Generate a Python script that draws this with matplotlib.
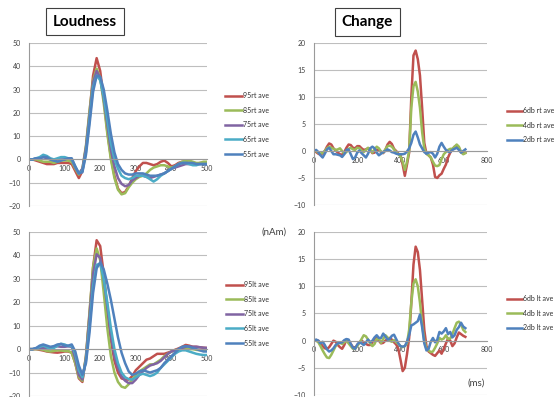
import numpy as np
import matplotlib
matplotlib.use('Agg')
import matplotlib.pyplot as plt

plt.rcParams['font.family'] = ['Lato', 'DejaVu Sans']

# loudness responses, 0..500 ms every 10 ms
t_loud = np.arange(0, 501, 10)

rt95 = [0, 0, -0.5, -1, -1.5, -2, -2, -2, -1.5, -1.5, -1.5, -1.5, -2, -5, -8, -5, 5, 20, 36, 43.5,
        38, 26, 12, 1, -7, -12.5, -14.5, -14, -11.5, -8, -5, -3, -1.5, -1.5, -2, -2.5, -2, -1, -0.5, -1.5,
        -3, -2.5, -1.5, -1, -1, -1.5, -2, -2, -1.5, -1.5, -1.5]
rt85 = [0, 0, 0, -0.5, -1, -1, -1, -1.5, -1, -0.5, -0.5, -0.5, -1, -4, -6.5, -4, 6, 21, 34, 39,
        35, 24, 11, 0, -8, -13, -15, -14.5, -12, -10, -8.5, -7.5, -7, -6, -4.5, -3.5, -3, -2.5, -2.5, -3,
        -3.5, -3, -2, -1, -0.5, -0.5, -1, -1.5, -1.5, -1, -1]
rt75 = [0, 0, 0.5, 0.5, 1, 0.5, 0, -0.5, 0, 0, 0, 0.5, 0, -3.5, -6, -4, 5, 19, 33, 38,
        35, 26, 15, 4, -3, -8, -10.5, -11.5, -11, -9, -8, -7, -7, -7.5, -8, -7.5, -7, -6.5, -6, -5,
        -4, -3.5, -3, -2.5, -2, -2, -2, -2, -2, -2, -2]
rt65 = [0, 0, 0.5, 1, 2, 1.5, 0.5, 0, 0.5, 1, 1, 0.5, 0, -3, -6, -5, 3, 17, 31, 36,
        34, 27, 17, 7, 0, -4, -7, -8, -8.5, -8, -7, -7, -7, -7.5, -8.5, -9.5, -8.5, -7, -6, -5,
        -4, -3, -2, -1.5, -1.5, -2, -2.5, -2.5, -2, -2, -2]
rt55 = [0, 0, 0.5, 0.5, 1, 1, 0, -0.5, -1, -0.5, 0, 0.5, 0.5, -3, -6, -5.5, 2, 15, 29, 36,
        35.5, 30, 21, 11, 3, -2, -4.5, -6, -6.5, -6.5, -6, -6, -6, -6.5, -7, -7, -7, -6.5, -6, -5,
        -4, -3, -2, -1.5, -1.5, -1.5, -1.5, -2, -2, -2, -2]

lt95 = [0, 0, 0, -0.3, -0.6, -1, -1.2, -1.4, -1.5, -1.3, -1, -1, -1.5, -6, -12.5, -14, -3, 15, 35, 46.5,
        44, 32, 17, 4, -5, -10, -12.5, -13, -13, -11.5, -9, -7.5, -6, -4.5, -4, -3, -2, -2, -2, -1.5,
        -1, -0.3, 0.3, 1, 1.8, 1.5, 1, 1, 0.8, 0.6, 0.5]
lt85 = [0, 0, 0, 0, -0.3, -0.8, -1, -0.8, -0.5, -0.6, -0.8, -0.8, -1.5, -6, -12, -13.5, -3, 16, 35, 43,
        38, 24, 9, -3, -10, -14, -16, -16.5, -15, -13, -11, -9.5, -8.5, -7.5, -6.5, -6.5, -5.5, -4.5, -3, -2,
        -1, -0.5, 0, 0, 0, 0, 0, -0.3, -0.5, -0.5, -0.5]
lt75 = [0, 0, 0.3, 0.5, 0.5, 0.3, 0.5, 1, 1.2, 1, 1, 1.2, 1, -4, -11, -13, -4, 14, 32, 40.5,
        39, 30, 18, 6, -3, -8, -11.5, -13.5, -14.5, -14.5, -13, -11, -9.5, -8, -7, -6.5, -6, -5, -3.5, -2,
        -1, -0.5, 0, 0.5, 1, 1.2, 1, 1, 0.8, 0.6, 0.5]
lt65 = [0, 0, 0.3, 1, 1.5, 0.8, 0, 0.5, 1.5, 2.3, 2, 1.3, 1.5, -2, -9, -12, -5, 10, 27, 36,
        36.5, 30, 20, 9, 0, -6, -10, -12, -12.8, -13, -12, -11, -10.5, -11, -11.5, -11, -10, -8, -6.5, -5,
        -3.5, -2, -1, -0.5, -0.5, -1, -1.5, -2, -2.3, -2.5, -2.5]
lt55 = [0, 0, 0.5, 1.5, 2, 1.5, 1, 1.3, 2, 2.2, 1.5, 1.5, 2, -1, -7, -11, -6, 7, 24, 34.5,
        37, 34, 28, 21, 13, 5, -1.5, -6, -9.5, -11, -10.5, -9.5, -9, -9.5, -10, -9.5, -9, -8, -6, -4.5,
        -3, -1.5, 0, 1, 1.3, 1, 0.5, 0, -0.5, -1, -1]

# change responses, 0..700 ms every 10 ms
t_chg = np.arange(0, 701, 10)

rt6 = [0, -0.2, -0.5, -0.7, -0.4, 0, 0.8, 1.4, 1.2, 0.5, 0.1, -0.3, -0.6, -0.7, -0.2, 0.6, 1.2, 1.1, 0.6, 0.5,
       0.9, 0.9, 0.5, 0.2, 0.3, 0.5, 0.2, -0.4, -0.3, 0.2, 0.2, -0.2, -0.4, 0.2, 1.2, 1.7, 1.3, 0.4, 0, -0.5,
       -0.8, -2.5, -4.6, -2.5, -0.3, 10, 17.7, 18.6, 17, 14, 8, 1.5, -0.5, -0.8, -1.2, -2.5, -4.8, -5, -4.5, -4.2,
       -3.3, -2.5, -1.2, -0.3, 0.3, 0.8, 1, 0.6, -0.2, -0.5, -0.3]
rt4 = [0, 0, -0.3, -0.5, -0.3, 0, 0.5, 0.8, 0.6, 0.4, 0.2, 0.3, 0.5, 0, -0.5, -0.2, 0.4, 0.6, 0.3, 0.2,
       0.6, 0.5, 0.1, -0.2, 0.2, 0.6, 0.3, -0.3, 0.3, 0.8, 0.5, -0.1, -0.3, 0.3, 0.9, 1, 0.8, 0.3, -0.2, -0.6,
       -1, -2, -3.5, -2, 0, 8, 12, 12.8, 11, 8, 3.5, 0.5, -0.5, -0.8, -1.2, -2, -2.7, -2.8, -2.6, -1.5,
       -0.6, -0.2, 0.2, 0.4, 0.4, 0.8, 1.2, 0.8, -0.2, -0.6, -0.4]
rt2 = [0, 0.2, -0.2, -0.8, -1.2, -0.5, 0.3, 0.6, 0, -0.6, -0.6, -0.7, -0.8, -1.1, -0.6, 0.2, 0.3, -0.6, -1.5, -1.2,
       -0.3, 0.1, -0.4, -0.8, -1.2, -0.5, 0.5, 0.8, 0.5, -0.3, -0.8, -0.5, -0.2, 0, 0.3, 0.1, -0.2, -0.3, -0.5, -0.6,
       -0.6, -0.6, -0.5, -0.1, 0.5, 1.5, 3, 3.6, 2.5, 1.2, 0.5, -0.2, -0.5, -0.3, -0.2, -0.5, -1.2, -0.5, 0.8, 1.5,
       0.8, 0.2, -0.1, -0.2, 0.2, 0.4, 0.6, 0.2, -0.3, 0, 0.3]

lt6 = [0, 0.1, 0, -0.5, -1, -1.4, -1.5, -1.2, -0.6, 0, -0.2, -0.8, -1.2, -1.5, -0.8, 0.2, 0, -0.6, -1.2, -1.5,
       -0.8, -0.3, 0, -0.3, -0.6, -0.8, -0.8, -0.3, 0.4, 0.5, 0, -0.5, -0.4, 0, 0.3, 0.5, 0.2, -0.3, -0.7, -1.5,
       -3.5, -5.6, -5, -2.5, 0.5, 7, 14, 17.3, 16.3, 13, 7.5, 2, -1, -2, -2.3, -2.6, -2.8, -2.3, -1.8, -2.4,
       -1.5, -0.5, 0.4, 0, -1, -0.5, 0.6, 1.5, 1.2, 0.9, 0.7]
lt4 = [0, 0, -0.3, -1, -1.8, -2.5, -3.1, -3.2, -2.6, -1.8, -1, -0.5, -0.4, -0.6, -0.3, 0, -0.5, -1, -1.5, -1.5,
       -1, -0.4, 0.3, 1, 0.8, 0.2, -0.5, -1, -0.6, 0.3, 0.4, -0.4, 0.3, 1, 0.6, 0, -0.2, 0.1, -0.3, -0.6,
       -1, -1.2, -1, -0.5, 2, 7, 10.5, 11.3, 10, 7, 3, 0, -1.5, -1.8, -2.1, -2, -1.3, -0.5, 0.5, 0.2,
       0.4, 1, 0.3, 0.4, 1.2, 2.3, 3.3, 3.5, 3, 2, 1.6]
lt2 = [0, 0.2, 0, -0.5, -0.2, -0.8, -1.6, -2, -1.8, -1.4, -0.8, -0.5, -0.4, -0.3, 0.1, 0.3, 0.2, -0.6, -1.3, -1.5,
       -0.7, -0.3, -0.5, -0.8, -0.3, 0.2, -0.3, 0, 0.6, 1, 0.5, 0.5, 1.3, 0.8, 0.2, 0.3, 0.9, 1.1, 0.3, -0.5,
       -1, -1.1, -1, -0.2, 1, 2.8, 3, 3.3, 3.6, 4.8, 2.5, -0.5, -1.8, -1.5, -0.2, 0.5, -0.3, 0.2, 1.6, 1.3,
       1.7, 2.3, 1.2, 1.6, 0.6, 1, 2, 2.5, 3.3, 2.6, 2.3]

loud_names_rt = ['95rt ave', '85rt ave', '75rt ave', '65rt ave', '55rt ave']
loud_names_lt = ['95lt ave', '85lt ave', '75lt ave', '65lt ave', '55lt ave']
chg_names_rt = ['6db rt ave', '4db rt ave', '2db rt ave']
chg_names_lt = ['6db lt ave', '4db lt ave', '2db lt ave']

RED, GREEN, PURPLE, CYAN, BLUE = '#C0504D', '#9BBB59', '#8064A2', '#4BACC6', '#4F81BD'
loud_colors = [RED, GREEN, PURPLE, CYAN, BLUE]
chg_colors = [RED, GREEN, BLUE]

W, H = 554, 397
fig = plt.figure(figsize=(W / 100, H / 100), dpi=100)
fig.patch.set_facecolor('white')


def px_axes(x0, x1, ytop, ybot):
    return fig.add_axes([x0 / W, 1 - ybot / H, (x1 - x0) / W, (ybot - ytop) / H])


def excel_style(ax, ylim, yticks, xlim, xticks):
    ax.set_ylim(*ylim)
    ax.set_xlim(*xlim)
    ax.set_yticks(yticks)
    ax.set_xticks(xticks)
    ax.set_axisbelow(True)
    ax.grid(axis='y', color='#BEBEBE', lw=0.8)
    for s in ['top', 'right']:
        ax.spines[s].set_visible(False)
    ax.spines['left'].set_color('#9A9A9A')
    ax.spines['left'].set_linewidth(0.8)
    ax.spines['bottom'].set_position(('data', 0))
    ax.spines['bottom'].set_color('#9A9A9A')
    ax.spines['bottom'].set_linewidth(0.8)
    ax.tick_params(axis='y', length=0, pad=6, labelsize=5, labelcolor='#404040')
    ax.tick_params(axis='x', length=0, pad=4, labelsize=5, labelcolor='#404040')
    ax.patch.set_alpha(0)


def legend_at(ax, names, x, ytop, hl):
    fig.legend(ax.get_lines(), names, loc='upper left', bbox_to_anchor=(x / W, 1 - ytop / H),
               frameon=False, fontsize=5, handlelength=hl, handletextpad=0.15,
               labelspacing=1.1, borderpad=0, borderaxespad=0, labelcolor='#303030')


# loudness, right ear
ax1 = px_axes(29, 207, 43, 206)
for y, c in zip([rt95, rt85, rt75, rt65, rt55], loud_colors):
    ax1.plot(t_loud, y, color=c, lw=1.8)
excel_style(ax1, (-20, 50), range(-20, 51, 10), (0, 500), range(0, 501, 100))
legend_at(ax1, loud_names_rt, 225, 92, 2.4)

# loudness, left ear
ax2 = px_axes(29, 207, 232, 396)
for y, c in zip([lt95, lt85, lt75, lt65, lt55], loud_colors):
    ax2.plot(t_loud, y, color=c, lw=1.8)
excel_style(ax2, (-20, 50), range(-20, 51, 10), (0, 500), range(0, 501, 100))
legend_at(ax2, loud_names_lt, 226, 281, 2.4)

# change, right ear
ax3 = px_axes(314, 487, 43, 205)
for y, c in zip([rt6, rt4, rt2], chg_colors):
    ax3.plot(t_chg, y, color=c, lw=1.8)
excel_style(ax3, (-10, 20), range(-10, 21, 5), (0, 800), range(0, 801, 200))
legend_at(ax3, chg_names_rt, 507, 107, 2.2)

# change, left ear
ax4 = px_axes(314, 487, 232, 395)
for y, c in zip([lt6, lt4, lt2], chg_colors):
    ax4.plot(t_chg, y, color=c, lw=1.8)
excel_style(ax4, (-10, 20), range(-10, 21, 5), (0, 800), range(0, 801, 200))
legend_at(ax4, chg_names_lt, 507, 295, 2.2)

# titles in boxes
box = dict(boxstyle='square,pad=0.45', facecolor='white', edgecolor='#404040', lw=0.8)
fig.text(85 / W, 1 - 21.5 / H, 'Loudness', ha='center', va='center', fontsize=11,
         fontweight='bold', color='black', bbox=box)
fig.text(367.5 / W, 1 - 22 / H, 'Change', ha='center', va='center', fontsize=11,
         fontweight='bold', color='black', bbox=box)

fig.text(274 / W, 1 - 232 / H, '(nAm)', ha='center', va='center', fontsize=7, color='#404040')
fig.text(476 / W, 1 - 383 / H, '(ms)', ha='center', va='center', fontsize=7, color='#404040')

fig.savefig('out.png', dpi=100)
